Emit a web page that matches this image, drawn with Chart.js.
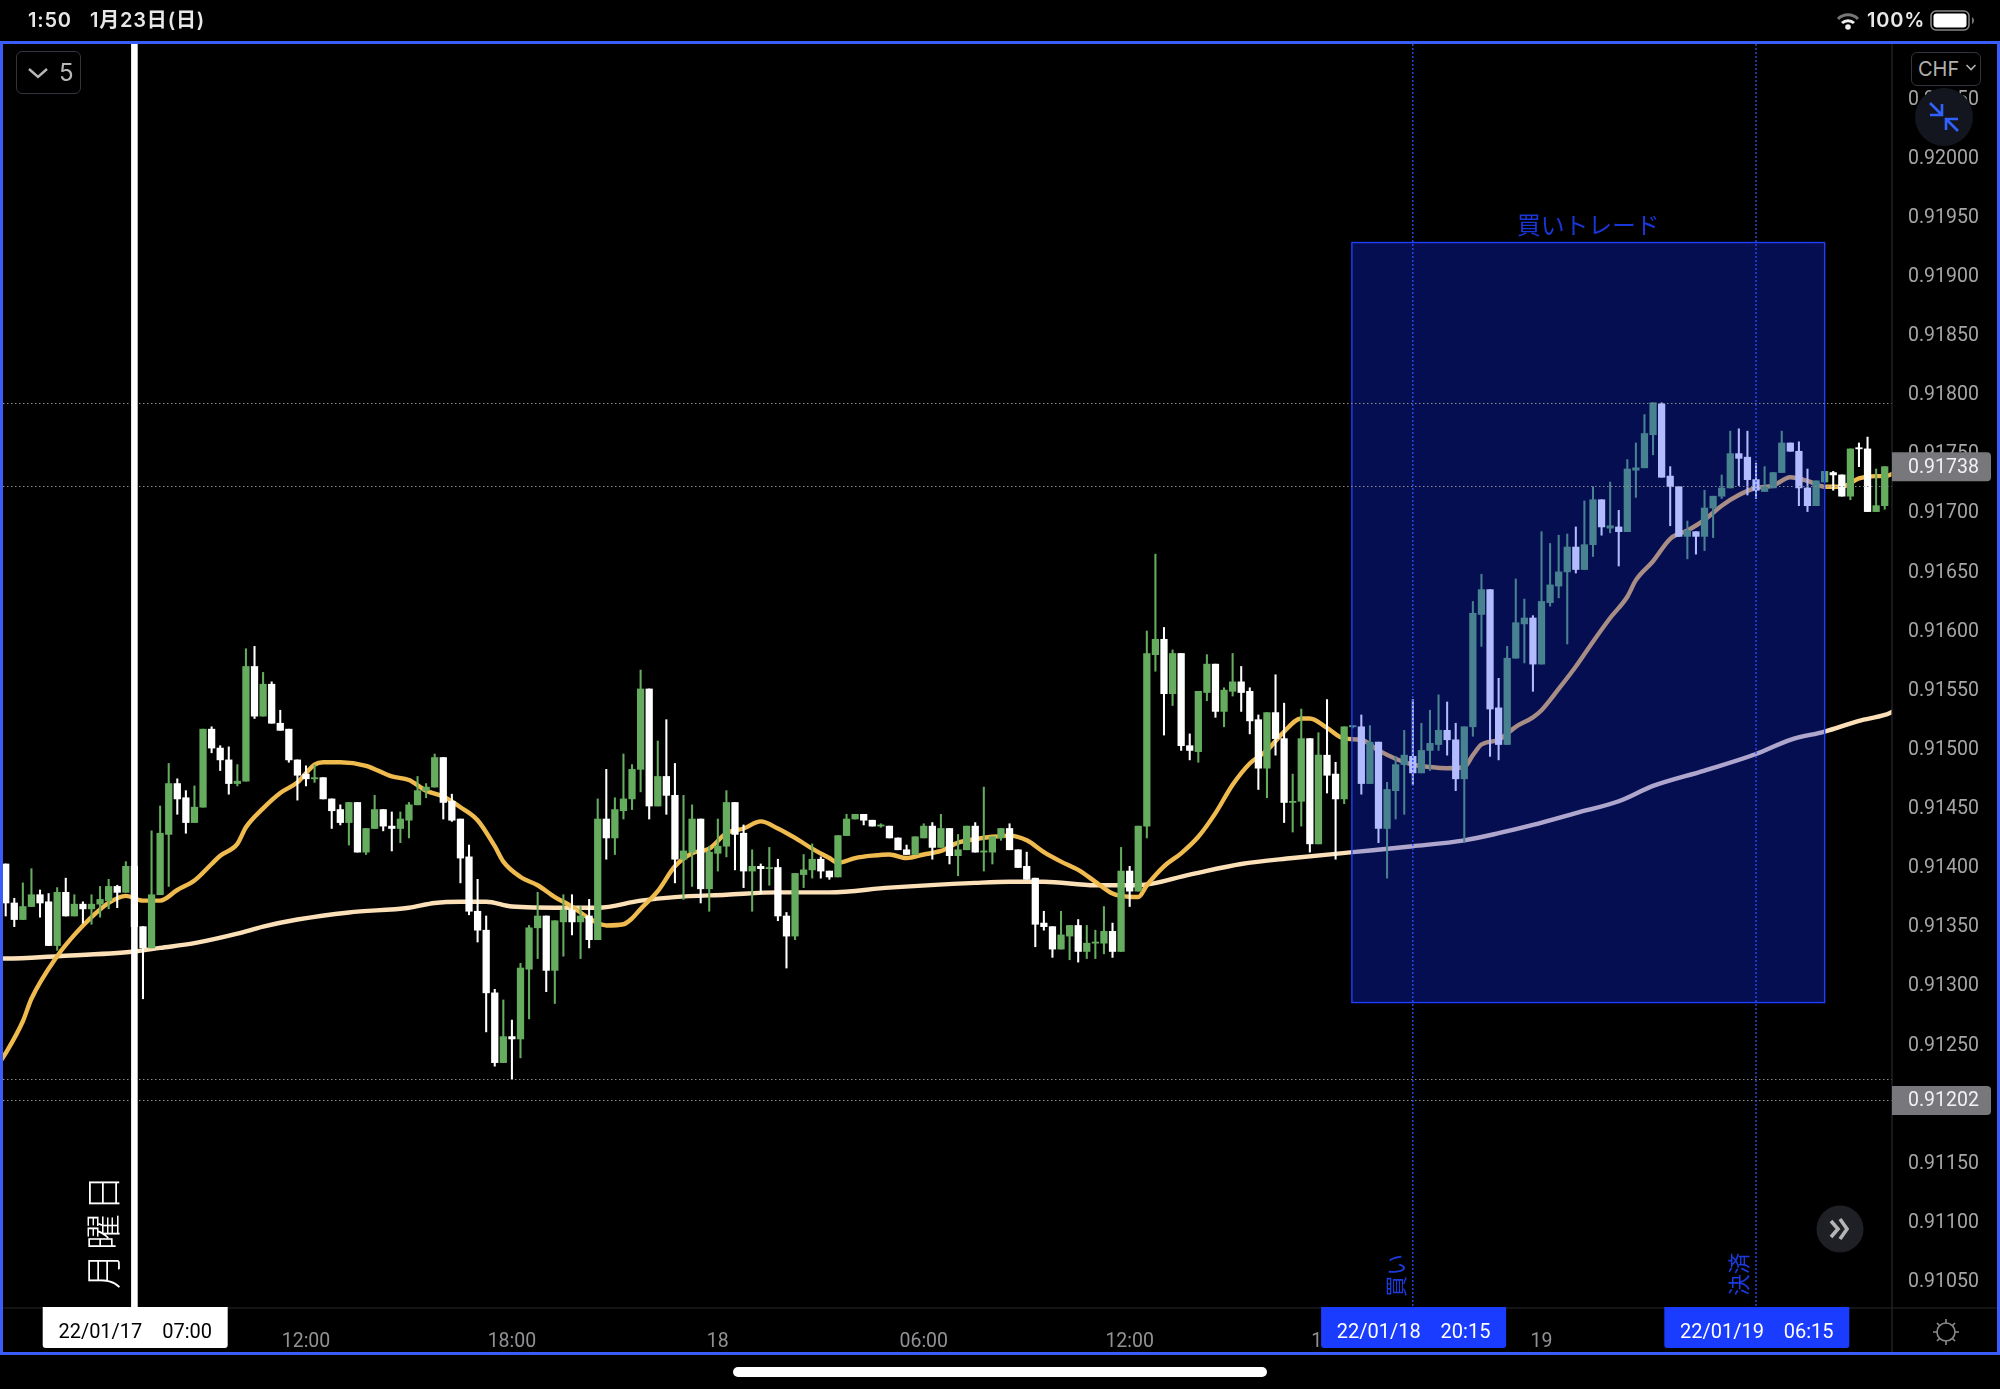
<!DOCTYPE html>
<html lang="ja">
<head>
<meta charset="utf-8">
<title>買いトレード</title>
<script src="https://cdn.jsdelivr.net/npm/chart.js@4/dist/chart.umd.min.js"></script>
<style>
html, body { margin: 0; padding: 0; background: #000; width: 2000px; height: 1389px; overflow: hidden; }
canvas { position: absolute; left: 0; top: 0; }
.ui { position: absolute; box-sizing: border-box; pointer-events: none; }
.status { font-family: Inter, "Noto Sans CJK JP", sans-serif; font-weight: 600; font-size: 20px; letter-spacing: 0.8px; line-height: 24px; color: #e8e8e8; white-space: pre; }
#frame { left: 0; top: 41px; width: 2000px; height: 1314px; border: 3px solid #3a5cf8; }
#homeBar { left: 733px; top: 1367px; width: 534px; height: 10px; background: #fff; border-radius: 5px; }
#interval { left: 16px; top: 51px; width: 65px; height: 43px; border: 1.5px solid #33353e; border-radius: 6px; }
#intervalText { left: 59px; top: 58px; font: 400 24px/30px Inter, sans-serif; color: #b8b8b8; }
#currency { left: 1911px; top: 52px; width: 70px; height: 34px; border: 1.5px solid #33353e; border-radius: 6px; background: #000; }
#currencyText { left: 1918px; top: 56px; font: 400 20px/26px Inter, sans-serif; color: #b0b0b0; }
</style>
</head>
<body>
<canvas id="chart" width="2000" height="1389"></canvas>

<div class="ui status" style="left:28px;top:8px">1:50</div>
<div class="ui status" style="left:90px;top:8px">1月23日(日)</div>
<div class="ui status" style="left:1867px;top:8px">100%</div>
<svg class="ui" style="left:1835px;top:11px" width="26" height="20" viewBox="0 0 26 20">
  <path d="M3 8 A14 14 0 0 1 23 8" fill="none" stroke="#777" stroke-width="3"/>
  <path d="M7 12 A9 9 0 0 1 19 12" fill="none" stroke="#eee" stroke-width="3"/>
  <circle cx="13" cy="16" r="2.8" fill="#eee"/>
</svg>
<svg class="ui" style="left:1930px;top:10px" width="48" height="22" viewBox="0 0 48 22">
  <rect x="1" y="1" width="38" height="19" rx="5" fill="none" stroke="#888" stroke-width="1.5"/>
  <rect x="3.5" y="3.5" width="33" height="14" rx="3" fill="#fff"/>
  <path d="M42 7 a4 4 0 0 1 0 7z" fill="#777"/>
</svg>

<div class="ui" id="interval"></div>
<svg class="ui" style="left:27px;top:66px" width="22" height="14" viewBox="0 0 22 14">
  <path d="M2 3 L11 11 L20 3" fill="none" stroke="#b8b8b8" stroke-width="2.4"/>
</svg>
<div class="ui" id="intervalText">5</div>

<div class="ui" id="frame"></div>
<div class="ui" id="currency"></div>
<div class="ui" id="currencyText">CHF</div>
<svg class="ui" style="left:1965px;top:63px" width="12" height="9" viewBox="0 0 12 9">
  <path d="M1.5 2 L6 6.5 L10.5 2" fill="none" stroke="#b0b0b0" stroke-width="1.6"/>
</svg>
<svg class="ui" style="left:1915px;top:88px" width="58" height="58" viewBox="0 0 58 58">
  <circle cx="29" cy="29" r="29" fill="#14161f"/>
  <path d="M15 15 L27 27 M27 16 L27 27 L15 27 M43 43 L31 31 M31 42 L31 31 L43 31" fill="none" stroke="#2f62ff" stroke-width="2.6"/>
</svg>
<svg class="ui" style="left:1816px;top:1205px" width="48" height="48" viewBox="0 0 48 48">
  <circle cx="24" cy="24" r="23.5" fill="#1e2025"/>
  <path d="M15 16 L22 24 L15 32 M24 14 L31 24 L24 34" fill="none" stroke="#b5b5b5" stroke-width="3.6"/>
</svg>
<svg class="ui" style="left:1930px;top:1316px" width="32" height="32" viewBox="0 0 32 32">
  <circle cx="16" cy="16" r="9" fill="none" stroke="#8a8a8a" stroke-width="1.6"/>
  <path d="M16 3 V7 M16 25 V29 M3 16 H7 M25 16 H29 M7 7 L10 10 M22 22 L25 25 M7 25 L10 22 M22 10 L25 7" stroke="#8a8a8a" stroke-width="1.6"/>
</svg>
<div class="ui" id="homeBar"></div>

<script>
// 15分足 2022/01/17 03:15 から
const opens = [
0.91402,0.91369,0.91355,0.91366,0.91376,0.91370,0.91333,0.91378,0.91358,0.91368,
0.91364,0.91368,0.91371,0.91383,0.91378,0.91400,0.91349,0.91331,0.91376,0.91427,
0.91470,0.91458,0.91437,0.91450,0.91516,0.91500,0.91490,0.91470,0.91472,0.91569,
0.91527,0.91554,0.91521,0.91516,0.91490,0.91478,0.91474,0.91475,0.91457,0.91448,
0.91437,0.91454,0.91412,0.91432,0.91448,0.91434,0.91432,0.91439,0.91452,0.91464,
0.91467,0.91492,0.91455,0.91440,0.91408,0.91362,0.91346,0.91293,0.91234,0.91256,
0.91254,0.91313,0.91348,0.91358,0.91312,0.91353,0.91363,0.91353,0.91358,0.91338,
0.91440,0.91424,0.91447,0.91457,0.91482,0.91550,0.91451,0.91476,0.91460,0.91406,
0.91412,0.91440,0.91381,0.91411,0.91417,0.91454,0.91428,0.91396,0.91400,0.91398,
0.91399,0.91358,0.91341,0.91393,0.91397,0.91406,0.91396,0.91391,0.91426,0.91440,
0.91444,0.91439,0.91434,0.91434,0.91424,0.91414,0.91410,0.91424,0.91434,0.91416,
0.91432,0.91409,0.91414,0.91434,0.91412,0.91412,0.91424,0.91432,0.91414,0.91400,
0.91390,0.91352,0.91349,0.91330,0.91341,0.91350,0.91328,0.91335,0.91335,0.91345,
0.91328,0.91396,0.91379,0.91434,0.91579,0.91592,0.91546,0.91580,0.91502,0.91497,
0.91547,0.91571,0.91531,0.91548,0.91556,0.91548,0.91524,0.91483,0.91530,0.91508,
0.91454,0.91455,0.91508,0.91419,0.91494,0.91478,0.91457,0.91518,0.91518,0.91470,
0.91505,0.91432,0.91464,0.91486,0.91493,0.91479,0.91498,0.91503,0.91515,0.91507,
0.91474,0.91518,0.91613,0.91634,0.91534,0.91503,0.91576,0.91605,0.91610,0.91571,
0.91623,0.91637,0.91649,0.91670,0.91651,0.91672,0.91710,0.91686,0.91687,0.91683,
0.91735,0.91737,0.91765,0.91791,0.91730,0.91721,0.91679,0.91683,0.91679,0.91703,
0.91713,0.91720,0.91749,0.91746,0.91727,0.91717,0.91720,0.91733,0.91758,0.91751,
0.91720,0.91705,0.91725,0.91733,0.91731,0.91713,0.91754,0.91753,0.91700,0.91705
];
const closes = [
0.91369,0.91355,0.91366,0.91376,0.91369,0.91333,0.91378,0.91358,0.91368,0.91364,
0.91368,0.91372,0.91383,0.91378,0.91400,0.91349,0.91331,0.91376,0.91428,0.91470,
0.91457,0.91437,0.91450,0.91516,0.91500,0.91490,0.91470,0.91472,0.91569,0.91527,
0.91554,0.91521,0.91515,0.91490,0.91477,0.91474,0.91475,0.91457,0.91447,0.91437,
0.91454,0.91412,0.91432,0.91448,0.91434,0.91432,0.91440,0.91452,0.91464,0.91467,
0.91492,0.91454,0.91439,0.91407,0.91362,0.91346,0.91293,0.91234,0.91256,0.91254,
0.91314,0.91348,0.91358,0.91312,0.91354,0.91363,0.91353,0.91358,0.91338,0.91440,
0.91424,0.91448,0.91457,0.91482,0.91550,0.91451,0.91476,0.91460,0.91406,0.91413,
0.91440,0.91381,0.91412,0.91417,0.91454,0.91427,0.91396,0.91400,0.91398,0.91399,
0.91358,0.91341,0.91394,0.91397,0.91406,0.91396,0.91391,0.91426,0.91440,0.91444,
0.91439,0.91434,0.91435,0.91424,0.91414,0.91410,0.91425,0.91434,0.91416,0.91432,
0.91409,0.91414,0.91434,0.91412,0.91413,0.91425,0.91432,0.91414,0.91399,0.91389,
0.91351,0.91349,0.91330,0.91342,0.91350,0.91328,0.91335,0.91336,0.91345,0.91328,
0.91396,0.91379,0.91434,0.91580,0.91592,0.91546,0.91580,0.91502,0.91498,0.91548,
0.91571,0.91531,0.91549,0.91556,0.91547,0.91523,0.91483,0.91530,0.91508,0.91454,
0.91455,0.91508,0.91419,0.91494,0.91477,0.91457,0.91518,0.91519,0.91470,0.91505,
0.91432,0.91465,0.91486,0.91494,0.91479,0.91498,0.91504,0.91515,0.91507,0.91474,
0.91518,0.91614,0.91634,0.91533,0.91503,0.91576,0.91606,0.91610,0.91571,0.91624,
0.91638,0.91649,0.91670,0.91651,0.91672,0.91710,0.91687,0.91688,0.91683,0.91736,
0.91737,0.91766,0.91792,0.91729,0.91721,0.91679,0.91684,0.91679,0.91703,0.91713,
0.91720,0.91749,0.91745,0.91727,0.91718,0.91721,0.91733,0.91758,0.91751,0.91720,
0.91705,0.91726,0.91734,0.91731,0.91713,0.91753,0.91753,0.91700,0.91705,0.91738
];
const highs = [
0.91402,0.91373,0.91386,0.91398,0.91380,0.91377,0.91382,0.91390,0.91376,0.91370,
0.91376,0.91383,0.91389,0.91384,0.91404,0.91400,0.91349,0.91430,0.91451,0.91487,
0.91474,0.91464,0.91468,0.91516,0.91518,0.91502,0.91501,0.91486,0.91584,0.91586,
0.91564,0.91556,0.91532,0.91516,0.91490,0.91485,0.91486,0.91475,0.91457,0.91452,
0.91454,0.91454,0.91432,0.91460,0.91448,0.91446,0.91446,0.91454,0.91476,0.91470,
0.91495,0.91492,0.91461,0.91440,0.91418,0.91389,0.91358,0.91296,0.91287,0.91270,
0.91318,0.91350,0.91378,0.91358,0.91354,0.91376,0.91376,0.91366,0.91372,0.91457,
0.91482,0.91458,0.91495,0.91486,0.91566,0.91550,0.91506,0.91524,0.91487,0.91460,
0.91452,0.91440,0.91417,0.91440,0.91464,0.91454,0.91435,0.91414,0.91402,0.91416,
0.91406,0.91361,0.91394,0.91410,0.91419,0.91408,0.91396,0.91426,0.91444,0.91444,
0.91444,0.91439,0.91436,0.91434,0.91424,0.91418,0.91425,0.91436,0.91437,0.91444,
0.91432,0.91427,0.91434,0.91437,0.91467,0.91425,0.91432,0.91436,0.91414,0.91412,
0.91390,0.91362,0.91349,0.91362,0.91350,0.91355,0.91350,0.91346,0.91366,0.91352,
0.91416,0.91400,0.91434,0.91599,0.91664,0.91602,0.91583,0.91580,0.91512,0.91548,
0.91579,0.91571,0.91551,0.91580,0.91569,0.91551,0.91528,0.91530,0.91562,0.91538,
0.91478,0.91533,0.91508,0.91513,0.91541,0.91488,0.91518,0.91519,0.91528,0.91519,
0.91505,0.91471,0.91493,0.91515,0.91541,0.91521,0.91532,0.91545,0.91539,0.91521,
0.91518,0.91624,0.91647,0.91634,0.91559,0.91586,0.91643,0.91626,0.91612,0.91683,
0.91673,0.91680,0.91681,0.91687,0.91709,0.91721,0.91710,0.91725,0.91701,0.91744,
0.91758,0.91782,0.91792,0.91792,0.91738,0.91721,0.91692,0.91683,0.91718,0.91713,
0.91731,0.91768,0.91770,0.91768,0.91741,0.91738,0.91733,0.91768,0.91758,0.91759,
0.91736,0.91726,0.91734,0.91734,0.91731,0.91753,0.91758,0.91763,0.91736,0.91738
];
const lows = [
0.91358,0.91349,0.91355,0.91366,0.91357,0.91333,0.91329,0.91358,0.91358,0.91352,
0.91351,0.91357,0.91364,0.91365,0.91378,0.91348,0.91288,0.91331,0.91376,0.91383,
0.91444,0.91428,0.91437,0.91450,0.91496,0.91481,0.91461,0.91468,0.91472,0.91525,
0.91527,0.91521,0.91515,0.91488,0.91456,0.91468,0.91471,0.91457,0.91432,0.91435,
0.91418,0.91412,0.91410,0.91432,0.91430,0.91413,0.91420,0.91424,0.91452,0.91458,
0.91467,0.91440,0.91438,0.91386,0.91359,0.91336,0.91260,0.91231,0.91234,0.91220,
0.91238,0.91271,0.91322,0.91294,0.91284,0.91324,0.91342,0.91322,0.91331,0.91338,
0.91406,0.91410,0.91440,0.91448,0.91463,0.91440,0.91451,0.91444,0.91386,0.91372,
0.91383,0.91369,0.91362,0.91396,0.91408,0.91397,0.91382,0.91362,0.91377,0.91384,
0.91354,0.91314,0.91338,0.91382,0.91390,0.91390,0.91389,0.91391,0.91426,0.91440,
0.91435,0.91434,0.91433,0.91424,0.91414,0.91410,0.91410,0.91424,0.91406,0.91416,
0.91402,0.91392,0.91414,0.91412,0.91396,0.91402,0.91422,0.91414,0.91399,0.91389,
0.91332,0.91346,0.91323,0.91330,0.91321,0.91319,0.91322,0.91322,0.91326,0.91323,
0.91328,0.91366,0.91379,0.91424,0.91565,0.91511,0.91536,0.91498,0.91490,0.91488,
0.91540,0.91526,0.91518,0.91544,0.91531,0.91512,0.91465,0.91458,0.91494,0.91437,
0.91429,0.91434,0.91412,0.91419,0.91462,0.91406,0.91453,0.91517,0.91461,0.91470,
0.91420,0.91390,0.91440,0.91444,0.91469,0.91479,0.91481,0.91498,0.91494,0.91464,
0.91420,0.91510,0.91586,0.91493,0.91490,0.91503,0.91576,0.91572,0.91548,0.91571,
0.91620,0.91627,0.91588,0.91648,0.91651,0.91662,0.91680,0.91682,0.91654,0.91683,
0.91712,0.91737,0.91748,0.91729,0.91688,0.91679,0.91660,0.91664,0.91667,0.91678,
0.91711,0.91720,0.91722,0.91714,0.91711,0.91717,0.91720,0.91733,0.91751,0.91705,
0.91700,0.91705,0.91725,0.91718,0.91713,0.91710,0.91738,0.91700,0.91700,0.91702
];

// 移動平均線 (読み取れたローソク番号とその値)
const fastMaIndex = [-1,0,2,3,6,8,10,12,14,16,18,20,22,24,25,27,28,30,32,34,36,37,39,42,45,47,49,51,53,55,57,58,60,62,64,66,68,69,70,72,73,74,76,78,80,82,84,86,88,90,92,94,96,97,99,101,103,105,107,109,111,113,115,117,119,121,123,125,127,129,130,132,133,135,137,139,141,143,145,147,149,151,152,154,156,158,160,162,164,166,168,170,171,172,174,176,178,179,181,183,185,187,189,190,192,194,196,198,200,202,204,206,208,210,212,214,216,218,219,220];
const fastMa = [0.91231,0.91242,0.91269,0.91288,0.91324,0.91342,0.91357,0.91369,0.91375,0.91371,0.91371,0.91380,0.91388,0.91402,0.91409,0.91419,0.91433,0.91449,0.91462,0.91471,0.91486,0.91488,0.91488,0.91485,0.91476,0.91473,0.91464,0.91459,0.91450,0.91439,0.91417,0.91404,0.91391,0.91384,0.91374,0.91366,0.91356,0.91352,0.91350,0.91351,0.91356,0.91364,0.91379,0.91400,0.91411,0.91415,0.91428,0.91432,0.91438,0.91432,0.91424,0.91415,0.91407,0.91403,0.91407,0.91409,0.91410,0.91407,0.91410,0.91413,0.91420,0.91423,0.91425,0.91426,0.91422,0.91412,0.91404,0.91397,0.91387,0.91377,0.91375,0.91374,0.91384,0.91400,0.91411,0.91425,0.91445,0.91469,0.91487,0.91498,0.91514,0.91525,0.91525,0.91517,0.91508,0.91507,0.91498,0.91491,0.91486,0.91484,0.91483,0.91484,0.91494,0.91503,0.91507,0.91518,0.91526,0.91532,0.91550,0.91569,0.91590,0.91610,0.91628,0.91642,0.91658,0.91677,0.91684,0.91693,0.91705,0.91714,0.91720,0.91722,0.91729,0.91726,0.91721,0.91721,0.91728,0.91730,0.91730,0.91732];
const slowMaIndex = [-1,0,6,15,18,22,27,30,34,40,47,50,53,56,59,65,69,74,78,84,90,96,103,113,117,121,127,132,138,144,150,157,164,170,174,178,183,188,192,198,204,208,212,216,219,220];
const slowMa = [0.91322,0.91322,0.91324,0.91328,0.91331,0.91335,0.91343,0.91349,0.91355,0.91361,0.91365,0.91369,0.91370,0.91370,0.91366,0.91365,0.91365,0.91371,0.91374,0.91376,0.91378,0.91378,0.91382,0.91386,0.91387,0.91387,0.91384,0.91384,0.91393,0.91402,0.91407,0.91412,0.91417,0.91422,0.91428,0.91435,0.91445,0.91455,0.91468,0.91481,0.91495,0.91507,0.91514,0.91523,0.91528,0.91531];

// 軸
const xTickIndex = [11,35,59,83,107,131,155,179,203];
const xTickLabels = ['06:00','12:00','18:00','18','06:00','12:00','18:00','19','06:00'];
const yTicks = [0.9205,0.92,0.9195,0.919,0.9185,0.918,0.9175,0.917,0.9165,0.916,0.9155,0.915,0.9145,0.914,0.9135,0.913,0.9125,0.912,0.9115,0.911,0.9105];

// 描画ツール
const guideLevels = [0.91792,0.91722,0.9122,0.91202];
const priceTags = [0.91738,0.91202];
const tradeBox = { fromIndex: 156.9, toIndex: 212.0, top: 0.919275, bottom: 0.912848, title: '買いトレード' };
const dateMarks = [
    { index: 15, text: '22/01/17    07:00', back: '#ffffff', color: '#000000' },
    { index: 164, text: '22/01/18    20:15', back: '#1a3cff', color: '#ffffff' },
    { index: 204, text: '22/01/19    06:15', back: '#1a3cff', color: '#ffffff' }
];
const entryLines = [ { index: 164, text: '買い', level: 0.91054 }, { index: 204, text: '決済', level: 0.91055 } ];
const mondayLine = { index: 15, text: '月曜日', level: 0.91092 };

const GREEN = '#65ac5f';
const FONT_JP = '"Noto Sans CJK JP", sans-serif';
const FONT_NUM = 'Roboto, sans-serif';

const candleColors = closes.map((c, i) => c >= opens[i] ? GREEN : '#ffffff');

const drawTools = {
    id: 'drawTools',
    afterDatasetsDraw(chart) {
        const ctx = chart.ctx;
        const xs = chart.scales.x;
        const ys = chart.scales.y;
        const area = chart.chartArea;

        // 買いトレードの箱
        const bx1 = xs.getPixelForValue(tradeBox.fromIndex);
        const bx2 = xs.getPixelForValue(tradeBox.toIndex);
        const by1 = ys.getPixelForValue(tradeBox.top);
        const by2 = ys.getPixelForValue(tradeBox.bottom);
        ctx.save();
        ctx.fillStyle = 'rgba(13,43,250,0.32)';
        ctx.fillRect(bx1, by1, bx2 - bx1, by2 - by1);
        ctx.strokeStyle = '#1f3fff';
        ctx.lineWidth = 1.4;
        ctx.strokeRect(bx1, by1, bx2 - bx1, by2 - by1);
        ctx.fillStyle = '#1a35d8';
        ctx.font = '23.8px ' + FONT_JP;
        ctx.textAlign = 'center';
        ctx.textBaseline = 'bottom';
        ctx.fillText(tradeBox.title, (bx1 + bx2) / 2, by1 - 5.5);

        // 水平の点線
        ctx.strokeStyle = '#8c8c8c';
        ctx.lineWidth = 1;
        ctx.setLineDash([1.5, 2.5]);
        guideLevels.forEach(v => {
            const y = Math.round(ys.getPixelForValue(v)) + 0.5;
            ctx.beginPath();
            ctx.moveTo(3, y);
            ctx.lineTo(area.right, y);
            ctx.stroke();
        });

        // エントリーと決済の縦線
        ctx.strokeStyle = '#2a4fff';
        ctx.lineWidth = 1.3;
        ctx.setLineDash([2, 2]);
        entryLines.forEach(m => {
            const x = xs.getPixelForValue(m.index);
            ctx.beginPath();
            ctx.moveTo(x, area.top);
            ctx.lineTo(x, area.bottom);
            ctx.stroke();
            ctx.save();
            ctx.translate(x - 6, ys.getPixelForValue(m.level));
            ctx.rotate(-Math.PI / 2);
            ctx.fillStyle = '#1b3be0';
            ctx.font = '21.5px ' + FONT_JP;
            ctx.textAlign = 'center';
            ctx.textBaseline = 'bottom';
            ctx.fillText(m.text, 0, 0);
            ctx.restore();
        });
        ctx.setLineDash([]);

        // 月曜日の線
        const mx = xs.getPixelForValue(mondayLine.index);
        ctx.fillStyle = '#ffffff';
        ctx.fillRect(mx - 3.3, area.top, 6.6, area.bottom - area.top);
        ctx.save();
        ctx.translate(mx - 13, ys.getPixelForValue(mondayLine.level));
        ctx.rotate(-Math.PI / 2);
        ctx.font = '300 36px ' + FONT_JP;
        ctx.letterSpacing = '3px';
        ctx.textAlign = 'center';
        ctx.textBaseline = 'bottom';
        ctx.fillText(mondayLine.text, 0, 0);
        ctx.restore();

        // 軸の区切り線
        ctx.strokeStyle = '#29292d';
        ctx.lineWidth = 1.2;
        ctx.beginPath();
        ctx.moveTo(area.right, area.top);
        ctx.lineTo(area.right, 1352);
        ctx.moveTo(0, area.bottom);
        ctx.lineTo(2000, area.bottom);
        ctx.stroke();

        // 価格ラベル
        priceTags.forEach(v => {
            const y = ys.getPixelForValue(v);
            ctx.fillStyle = '#77777c';
            ctx.beginPath();
            ctx.roundRect(area.right, y - 14.5, 99, 29, [0, 4, 4, 0]);
            ctx.fill();
            ctx.fillStyle = '#f2f2f2';
            ctx.font = '19.5px ' + FONT_NUM;
            ctx.textAlign = 'left';
            ctx.textBaseline = 'middle';
            ctx.fillText(v.toFixed(5), area.right + 16, y + 1);
        });

        // 日時ラベル
        dateMarks.forEach(m => {
            const x = xs.getPixelForValue(m.index) + 0.8;
            ctx.fillStyle = m.back;
            ctx.beginPath();
            ctx.roundRect(x - 92.5, area.bottom - 1, 185, 41, [0, 0, 3, 3]);
            ctx.fill();
            ctx.fillStyle = m.color;
            ctx.font = '20px ' + FONT_NUM;
            ctx.textAlign = 'center';
            ctx.textBaseline = 'middle';
            ctx.fillText(m.text, x, area.bottom + 25);
        });
        ctx.restore();
    }
};

new Chart(document.getElementById('chart'), {
    data: {
        datasets: [
            {
                type: 'line',
                order: 4,
                data: slowMaIndex.map((x, i) => ({ x: x, y: slowMa[i] })),
                borderColor: '#fbe0b8',
                borderWidth: 4.4,
                pointRadius: 0,
                cubicInterpolationMode: 'monotone'
            },
            {
                type: 'line',
                order: 3,
                data: fastMaIndex.map((x, i) => ({ x: x, y: fastMa[i] })),
                borderColor: '#f0bb4e',
                borderWidth: 4.4,
                pointRadius: 0,
                cubicInterpolationMode: 'monotone'
            },
            {
                type: 'bar',
                order: 2,
                grouped: false,
                barThickness: 1.4,
                data: highs.map((h, i) => ({ x: i, y: [lows[i], h] })),
                backgroundColor: candleColors,
                borderWidth: 0
            },
            {
                type: 'bar',
                order: 1,
                grouped: false,
                barThickness: 6.6,
                data: opens.map((o, i) => ({ x: i, y: [o, closes[i]] })),
                backgroundColor: candleColors,
                borderWidth: 0
            }
        ]
    },
    options: {
        responsive: false,
        animation: false,
        events: [],
        layout: { padding: { top: 44, left: 0, right: 0, bottom: 0 } },
        plugins: { legend: { display: false }, tooltip: { enabled: false } },
        scales: {
            x: {
                type: 'linear',
                offset: false,
                min: -0.664,
                max: 219.85,
                grid: { display: false },
                border: { display: false },
                afterBuildTicks(scale) { scale.ticks = xTickIndex.map(v => ({ value: v })); },
                afterFit(scale) { scale.height = 81; },
                ticks: {
                    autoSkip: false,
                    maxRotation: 0,
                    padding: 14,
                    color: '#929296',
                    font: { family: FONT_NUM, size: 19.5 },
                    callback: value => xTickLabels[xTickIndex.indexOf(value)]
                }
            },
            y: {
                type: 'linear',
                position: 'right',
                min: 0.910265,
                max: 0.920954,
                grid: { display: false },
                border: { display: false },
                afterBuildTicks(scale) { scale.ticks = yTicks.map(v => ({ value: v })); },
                afterFit(scale) { scale.width = 108; },
                ticks: {
                    autoSkip: false,
                    padding: 8,
                    labelOffset: 2,
                    color: '#a6a6a8',
                    font: { family: FONT_NUM, size: 19.5 },
                    callback: value => value.toFixed(5)
                }
            }
        }
    },
    plugins: [drawTools]
});
</script>
</body>
</html>
